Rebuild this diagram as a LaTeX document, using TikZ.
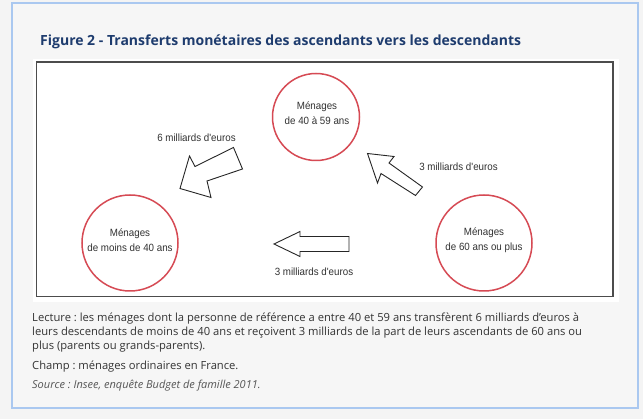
\documentclass[tikz,border=0pt]{standalone}
\usepackage{fontspec}
\setmainfont{Open Sans}
\newfontfamily\diagfont[FakeStretch=0.93]{Liberation Sans}
\frenchspacing
\definecolor{pagebg}{RGB}{244,244,244}
\definecolor{panelbg}{RGB}{246,246,246}
\definecolor{panelblue}{RGB}{170,200,240}
\definecolor{titleblue}{RGB}{30,60,110}
\definecolor{bodytext}{RGB}{51,51,51}
\definecolor{srctext}{RGB}{85,85,85}
\definecolor{circred}{RGB}{214,74,84}
\definecolor{labeltext}{RGB}{50,50,50}
\newcommand{\apos}{{\char"0027}}
\newcommand{\bodyfnt}{\fontsize{11.2}{15}\selectfont}
\tikzset{
  hhcircle/.style={circle, draw=circred, line width=1.5pt, inner sep=0pt},
  hhtext/.style={font=\diagfont\fontsize{10.5}{15}\selectfont, text=labeltext, align=center, inner sep=0pt},
  amount/.style={font=\diagfont\fontsize{10.5}{15}\selectfont, text=labeltext, inner sep=0pt},
  blockarrow/.style={draw=black!85, fill=white, line width=0.9pt, line join=miter},
  bodyline/.style={font=\bodyfnt, text=bodytext, anchor=base west, inner sep=0pt},
}
\begin{document}
\begin{tikzpicture}[x=1pt,y=-1pt]
\useasboundingbox (0,0) rectangle (643,419);
\fill[pagebg] (0,0) rectangle (643,419);
\filldraw[fill=panelbg, draw=panelblue, line width=1.2pt] (12,3) rectangle (638,408);
\fill[white] (33,59) rectangle (619,302);
\draw[black!70, line width=1.3pt] (36.7,62) rectangle (613,296.7);

\node[anchor=base west, inner sep=0pt, text=titleblue, font=\bfseries\fontsize{14}{16}\selectfont] (title) at (40,46) {Figure 2 - Transferts monétaires des ascendants vers les descendants};

% households
\node[hhcircle, minimum size=87pt] (c4059) at (316,117) {};
\node[hhcircle, minimum size=96pt] (c40) at (130,243) {};
\node[hhcircle, minimum size=96pt] (c60) at (484,243) {};
\node[hhtext] (t4059) at (317,113) {Ménages\\de 40 à 59 ans};
\node[hhtext] (t40) at (130,240.5) {Ménages\\de moins de 40 ans};
\node[hhtext] (t60) at (484,240.5) {Ménages\\de 60 ans ou plus};

% block arrows
\draw[blockarrow] (180,188.5) -- (189.5,156) -- (195,166.5) -- (233.5,147.5) -- (242.5,169) -- (207,181) -- (211,197.5) -- cycle;
\draw[blockarrow] (367.5,153.5) -- (394,156.5) -- (389,163) -- (422.5,187) -- (415.5,195.5) -- (381,173.5) -- (377.5,183) -- cycle;
\draw[blockarrow] (274,244) -- (300,231.5) -- (300,236.5) -- (349,236.5) -- (349,251.5) -- (300,251.5) -- (300,256.5) -- cycle;

% amounts
\node[amount] (a6) at (196.5,138) {6 milliards d\apos euros};
\node[amount] (a3r) at (458.5,166.5) {3 milliards d\apos euros};
\node[amount] (a3b) at (314,272) {3 milliards d\apos euros};

% notes
\node[bodyline] (l1) at (32,321.5) {Lecture : les ménages dont la personne de référence a entre 40 et 59 ans transfèrent 6 milliards d\apos euros à};
\node[bodyline] (l2) at (32,335.7) {leurs descendants de moins de 40 ans et reçoivent 3 milliards de la part de leurs ascendants de 60 ans ou};
\node[bodyline] (l3) at (32,350) {plus (parents ou grands-parents).};
\node[bodyline] (champ) at (32,369.3) {Champ : ménages ordinaires en France.};
\node[bodyline, text=srctext, font=\itshape\fontsize{11}{15}\selectfont] (src) at (32,388.3) {Source : Insee, enquête Budget de famille 2011.};
\end{tikzpicture}
\end{document}
